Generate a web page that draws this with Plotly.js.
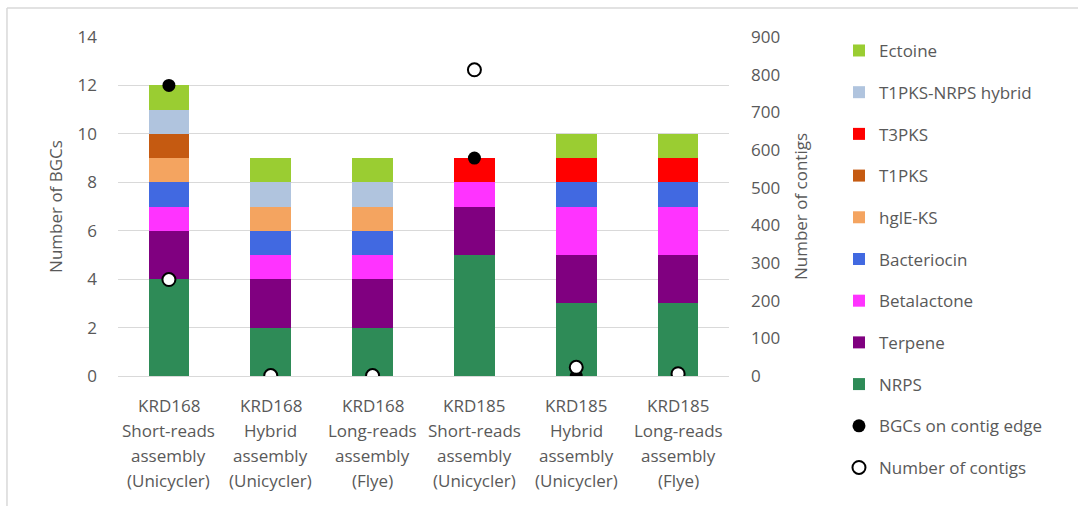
<!DOCTYPE html>
<html>
<head>
<meta charset="utf-8">
<script src="https://cdn.plot.ly/plotly-3.0.1.min.js"></script>
<style>
  html, body { margin: 0; padding: 0; background: #ffffff; }
  #chart { width: 1078px; height: 506px; }
</style>
</head>
<body>
<div id="chart"></div>
<script>
// Assemblies (x categories), one list of label lines per category
const labelLines = [
  ["KRD168", "Short-reads", "assembly", "(Unicycler)"],
  ["KRD168", "Hybrid", "assembly", "(Unicycler)"],
  ["KRD168", "Long-reads", "assembly", "(Flye)"],
  ["KRD185", "Short-reads", "assembly", "(Unicycler)"],
  ["KRD185", "Hybrid", "assembly", "(Unicycler)"],
  ["KRD185", "Long-reads", "assembly", "(Flye)"]
];
const categories = labelLines.map(l => l.join(" "));

// BGC counts per class (stacked bottom to top)
const nrps        = [4, 2, 2, 5, 3, 3];
const terpene     = [2, 2, 2, 2, 2, 2];
const betalactone = [1, 1, 1, 1, 2, 2];
const bacteriocin = [1, 1, 1, 0, 1, 1];
const hgleKS      = [1, 1, 1, 0, 0, 0];
const t1pks       = [1, 0, 0, 0, 0, 0];
const t3pks       = [0, 0, 0, 1, 1, 1];
const t1pksNrps   = [1, 1, 1, 0, 0, 0];
const ectoine     = [1, 1, 1, 0, 1, 1];

// BGCs located on a contig edge (left axis) and contig counts (right axis)
const bgcsOnEdge = [12, 0, 0, 9, 0, 0];
const contigs    = [256, 1, 1, 813, 23, 6];

const leftTicks  = [0, 2, 4, 6, 8, 10, 12, 14];
const rightTicks = [0, 100, 200, 300, 400, 500, 600, 700, 800, 900];

const FONT = "'Open Sans', 'Noto Sans', sans-serif";
const FS = 17;
const GREY = "#595959";
const GRID = "#d9d9d9";

const series = [
  ["NRPS", nrps, "#2e8b57"],
  ["Terpene", terpene, "#800080"],
  ["Betalactone", betalactone, "#ff33ff"],
  ["Bacteriocin", bacteriocin, "#4169e1"],
  ["hglE-KS", hgleKS, "#f4a460"],
  ["T1PKS", t1pks, "#c55a11"],
  ["T3PKS", t3pks, "#ff0000"],
  ["T1PKS-NRPS hybrid", t1pksNrps, "#b0c4de"],
  ["Ectoine", ectoine, "#9acd32"]
];

const traces = [];
const nSeries = series.length;

// Stacked bars; legend lists the top segment first
series.forEach(([name, vals, color], k) => {
  traces.push({
    type: "bar", name: name, legendgroup: name,
    legendrank: 100 + (nSeries - k) * 10,
    x: categories, y: vals, yaxis: "y",
    marker: { color: color, line: { width: 0 } }
  });
});

traces.push({
  type: "scatter", mode: "markers", name: "BGCs on contig edge",
  legendgroup: "edge", legendrank: 300,
  x: categories, y: bgcsOnEdge, yaxis: "y",
  marker: { symbol: "circle", size: 13, color: "#000000", line: { width: 0 } },
  hoverinfo: "x+y+name"
});
traces.push({
  type: "scatter", mode: "markers", name: "Number of contigs",
  legendgroup: "contigs", legendrank: 310,
  x: categories, y: contigs, yaxis: "y2",
  marker: { symbol: "circle", size: 13, color: "#ffffff", line: { color: "#000000", width: 2 } },
  hoverinfo: "x+y+name"
});

// Multi-line category labels under the axis
const annotations = [];
labelLines.forEach((lines, i) => {
  lines.forEach((t, j) => {
    annotations.push({
      x: categories[i], xref: "x", y: 0, yref: "paper",
      yanchor: "middle", xanchor: "center",
      yshift: -29 - 25 * j,
      text: t, showarrow: false,
      font: { family: FONT, size: FS, color: GREY }
    });
  });
});

const layout = {
  width: 1078, height: 506,
  paper_bgcolor: "#ffffff", plot_bgcolor: "#ffffff",
  margin: { l: 118, r: 349, t: 37, b: 130, pad: 0 },
  barmode: "stack",
  bargap: 0.6,
  showlegend: true,
  font: { family: FONT, size: FS, color: GREY },
  xaxis: {
    type: "category", categoryarray: categories, categoryorder: "array",
    showticklabels: false, ticks: "", showgrid: false, zeroline: false,
    showline: false, fixedrange: true
  },
  yaxis: {
    range: [0, 14], tickvals: leftTicks, ticktext: leftTicks.map(String),
    showgrid: true, gridcolor: GRID, gridwidth: 1,
    zeroline: true, zerolinecolor: GRID, zerolinewidth: 1,
    showline: false, ticks: "", ticklabelstandoff: 20,
    tickfont: { family: FONT, size: FS, color: GREY },
    title: { text: "Number of BGCs", standoff: 10, font: { family: FONT, size: FS, color: GREY } }
  },
  yaxis2: {
    range: [0, 900], tickvals: rightTicks, ticktext: rightTicks.map(String),
    overlaying: "y", side: "right",
    showgrid: false, zeroline: false, showline: false, ticks: "",
    ticklabelstandoff: 21,
    tickfont: { family: FONT, size: FS, color: GREY },
    title: { text: "Number of contigs", standoff: 15, font: { family: FONT, size: FS, color: GREY } }
  },
  legend: {
    x: 1.18, xanchor: "left", y: 1.012, yanchor: "top",
    traceorder: "grouped", tracegroupgap: 16.6, maxheight: 500,
    font: { family: FONT, size: FS, color: GREY },
    bgcolor: "rgba(0,0,0,0)", borderwidth: 0
  },
  annotations: annotations,
  shapes: [
    { type: "line", xref: "paper", yref: "paper", x0: -0.1817, x1: -0.1817, y0: 1.0856, y1: -0.4,
      line: { color: GRID, width: 1.5 } },
    { type: "line", xref: "paper", yref: "paper", x0: -0.1817, x1: 1.6, y0: 1.0856, y1: 1.0856,
      line: { color: GRID, width: 1.5 } }
  ]
};

Plotly.newPlot("chart", traces, layout, { displayModeBar: false, staticPlot: true });
</script>
</body>
</html>
